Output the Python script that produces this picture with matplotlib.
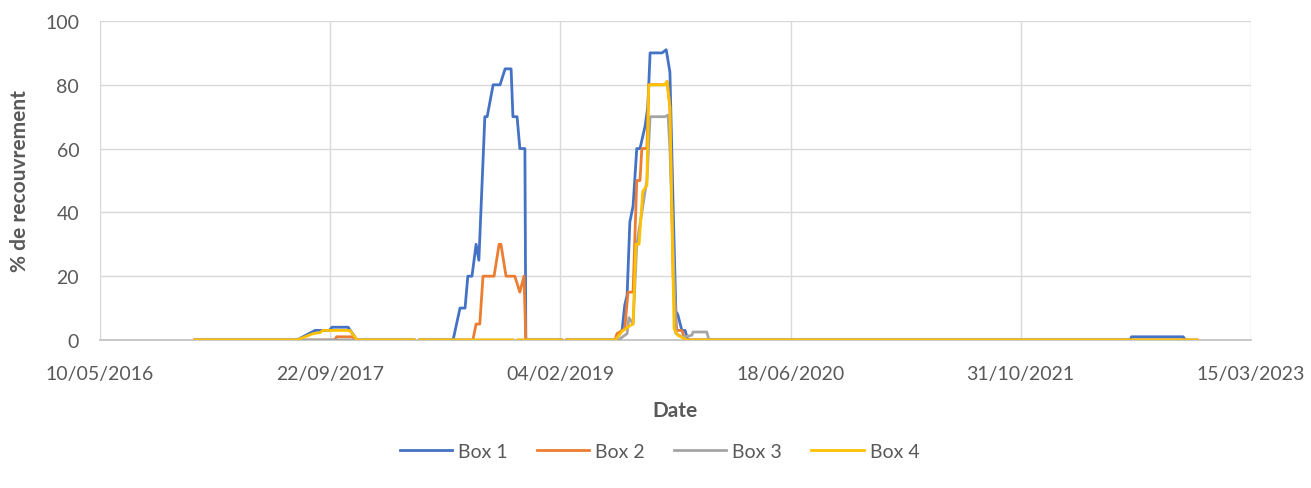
import numpy as np
import pandas as pd
import matplotlib
matplotlib.use('Agg')
import matplotlib.pyplot as plt
import matplotlib.dates as mdates

nan = np.nan

# Box 1 (NaN = missing measurement -> gap in the line)
box1_dates = ['2016-12-01', '2017-07-12', '2017-08-20', '2017-09-20', '2017-09-26', '2017-10-31',
              '2017-11-19', '2018-03-23', '2018-03-29', '2018-04-05', '2018-06-16', '2018-07-01',
              '2018-07-12', '2018-07-18', '2018-07-27', '2018-08-05', '2018-08-11', '2018-08-24',
              '2018-08-29', '2018-09-11', '2018-09-26', '2018-10-07', '2018-10-20', '2018-10-24',
              '2018-11-02', '2018-11-08', '2018-11-19', '2018-11-21', '2019-02-07', '2019-02-12',
              '2019-02-18', '2019-06-03', '2019-06-18', '2019-06-24', '2019-06-29', '2019-07-05',
              '2019-07-12', '2019-07-20', '2019-07-27', '2019-08-07', '2019-08-13', '2019-08-18',
              '2019-09-13', '2019-09-22', '2019-09-30', '2019-10-07', '2019-10-13', '2019-10-17',
              '2019-10-26', '2019-11-02', '2019-11-08', '2022-06-25', '2022-06-29', '2022-10-19',
              '2022-10-24']
box1_values = [0, 0, 3, 3, 4, 4,
               0, 0, nan, 0, 0, 10,
               10, 20, 20, 30, 25, 70,
               70, 80, 80, 85, 85, 70,
               70, 60, 60, 0, 0, nan,
               0, 0, 3, 11, 14, 37,
               42, 60, 60, 67, 73, 90,
               90, 91, 84, 42, 9, 8,
               3, 3, 0, 0, 1, 1,
               0]

box2_dates = ['2016-12-01', '2017-10-02', '2017-10-06', '2017-11-08', '2017-11-19', '2018-03-23',
              '2018-03-29', '2018-04-05', '2018-07-29', '2018-08-05', '2018-08-13', '2018-08-20',
              '2018-09-13', '2018-09-24', '2018-09-28', '2018-10-09', '2018-10-28', '2018-11-08',
              '2018-11-17', '2018-11-21', '2019-02-07', '2019-02-12', '2019-02-18', '2019-06-03',
              '2019-06-07', '2019-06-24', '2019-07-01', '2019-07-12', '2019-07-20', '2019-07-27',
              '2019-07-31', '2019-08-11', '2019-08-15', '2019-09-19', '2019-09-24', '2019-09-30',
              '2019-10-07', '2019-10-15', '2019-10-26', '2019-11-02', '2022-11-18']
box2_values = [0, 0, 1, 1, 0, 0,
               nan, 0, 0, 5, 5, 20,
               20, 30, 30, 20, 20, 15,
               20, 0, 0, nan, 0, 0,
               2, 3.5, 15, 15, 50, 50,
               60, 60, 80, 80, 81, 73,
               20, 3, 3, 0, 0]

box3_dates = ['2016-12-01', '2018-03-23', '2018-03-29', '2018-04-05', '2018-10-24', '2018-10-29',
              '2018-11-04', '2019-02-07', '2019-02-12', '2019-02-18', '2019-06-10', '2019-06-29',
              '2019-07-03', '2019-07-12', '2019-07-20', '2019-08-11', '2019-08-18', '2019-09-19',
              '2019-09-26', '2019-09-30', '2019-10-13', '2019-10-26', '2019-11-02', '2019-11-17',
              '2019-11-19', '2019-12-19', '2019-12-24', '2022-11-18']
box3_values = [0, 0, nan, 0, 0, nan,
               0, 0, nan, 0, 0, 2,
               7, 5, 30, 50, 70, 70,
               70.5, 60, 2, 1, 1, 1.5,
               2.5, 2.5, 0, 0]

box4_dates = ['2016-12-01', '2017-07-12', '2017-08-16', '2017-08-31', '2017-09-06', '2017-11-04',
              '2017-11-19', '2018-03-23', '2018-03-29', '2018-04-05', '2018-10-24', '2018-10-29',
              '2018-11-04', '2019-02-07', '2019-02-12', '2019-02-18', '2019-06-03', '2019-06-18',
              '2019-07-05', '2019-07-12', '2019-07-18', '2019-07-25', '2019-08-02', '2019-08-11',
              '2019-08-15', '2019-09-19', '2019-09-24', '2019-09-30', '2019-10-09', '2019-10-17',
              '2019-11-06', '2022-11-18']
box4_values = [0, 0, 2, 2.3, 3, 3,
               0, 0, nan, 0, 0, nan,
               0, 0, nan, 0, 0, 2.7,
               4.5, 5, 30, 30, 46.5, 48.5,
               80, 80, 81, 73, 3.5, 1.5,
               0, 0]

series = [("Box 1", box1_dates, box1_values, "#4472C4"),
          ("Box 2", box2_dates, box2_values, "#ED7D31"),
          ("Box 3", box3_dates, box3_values, "#A5A5A5"),
          ("Box 4", box4_dates, box4_values, "#FFC000")]

txt = "#595959"
plt.rcParams['font.family'] = ['Lato', 'DejaVu Sans']

fig = plt.figure(figsize=(13.11, 4.89), dpi=100)
ax = fig.add_axes([0.0763, 0.3027, 0.8778, 0.6523])

for name, d, v, c in series:
    ax.plot(pd.to_datetime(d), v, color=c, lw=2, label=name, zorder=3)

start = pd.Timestamp('2016-05-10')
ticks = [start + pd.Timedelta(days=500 * i) for i in range(6)]
ax.set_xlim(ticks[0], ticks[-1])
ax.set_xticks(ticks)
ax.xaxis.set_major_formatter(mdates.DateFormatter('%d/%m/%Y'))
ax.set_ylim(0, 100)
ax.set_yticks(range(0, 101, 20))

ax.grid(True, color="#D9D9D9", lw=1)
ax.set_axisbelow(True)
for s in ['top', 'right', 'left']:
    ax.spines[s].set_visible(False)
ax.spines['bottom'].set_color("#BFBFBF")
ax.spines['bottom'].set_linewidth(1.2)
ax.tick_params(length=0, labelsize=14, colors=txt)
ax.tick_params(axis='x', pad=18)
ax.tick_params(axis='y', pad=15)

ax.set_xlabel("Date", fontsize=15, fontweight='bold', color=txt, labelpad=13)
ax.set_ylabel("% de recouvrement", fontsize=15, fontweight='bold', color=txt, labelpad=11)

leg = fig.legend(loc='center', bbox_to_anchor=(0.503, 0.075), ncol=4, frameon=False,
                 fontsize=14, handlelength=2.7, columnspacing=1.5, handletextpad=0.3)
for t in leg.get_texts():
    t.set_color(txt)

fig.savefig("out.png", dpi=100)
